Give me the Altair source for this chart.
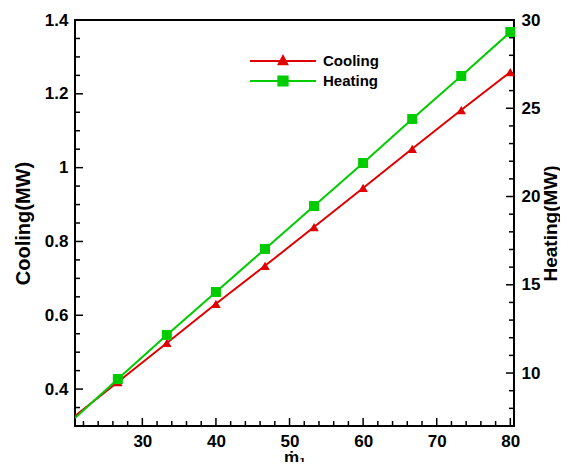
import altair as alt
import pandas as pd

# ---- data ----
x_vals = [20.85, 26.67, 33.33, 40.0, 46.67, 53.33, 60.0, 66.67, 73.33, 80.0]
cooling = [0.327, 0.419, 0.525, 0.631, 0.734, 0.839, 0.945, 1.051, 1.156, 1.259]
heating = [7.45, 9.66, 12.16, 14.59, 17.03, 19.46, 21.90, 24.39, 26.83, 29.32]
has_marker = [False, True, True, True, True, True, True, True, True, True]

series_names = ["Cooling", "Heating"]
series_colors = ["#e00000", "#00cc00"]
legend_paths = [
    "M-1,0H1M-0.13,0.1L0,-0.15L0.13,0.1Z",
    "M-1,0H1M-0.14,-0.14H0.14V0.14H-0.14Z",
]

x_major = [30, 40, 50, 60, 70, 80]
x_minor = [22, 24, 26, 28, 32, 34, 36, 38, 42, 44, 46, 48, 52, 54,
           56, 58, 62, 64, 66, 68, 72, 74, 76, 78]
cool_major = [0.4, 0.6, 0.8, 1, 1.2, 1.4]
cool_minor = [0.3, 0.35, 0.45, 0.5, 0.55, 0.65, 0.7, 0.75, 0.85,
              0.9, 0.95, 1.05, 1.1, 1.15, 1.25, 1.3, 1.35]
heat_major = [10, 15, 20, 25, 30]
heat_minor = [7, 8, 9, 11, 12, 13, 14, 16, 17, 18, 19, 21, 22, 23,
              24, 26, 27, 28, 29]

X_DOM = [20.85, 80.5]
COOL_DOM = [0.3, 1.4]
HEAT_DOM = [7, 30]

df = pd.DataFrame({"x": x_vals, "cooling": cooling, "heating": heating,
                   "marker": has_marker})
leg_df = pd.DataFrame({"series": series_names})

W, H = 439, 406
FONT = "Liberation Sans"
RED, GREEN = series_colors


def xs():
    return alt.Scale(domain=X_DOM, nice=False, zero=False)


def cs():
    return alt.Scale(domain=COOL_DOM, nice=False, zero=False)


def hs():
    return alt.Scale(domain=HEAT_DOM, nice=False, zero=False)


def lab_axis(**kw):
    opts = dict(ticks=False, tickSize=0, domain=False, grid=False,
                labelFont=FONT, labelFontSize=17, labelFontWeight="bold",
                labelColor="black", titleFont=FONT, titleFontSize=20,
                titleFontWeight="bold", titleColor="black", labelPadding=7)
    opts.update(kw)
    return alt.Axis(**opts)


cool_line = alt.Chart(df).mark_line(color=RED, strokeWidth=2, clip=True).encode(
    x=alt.X("x:Q", scale=xs(),
            axis=lab_axis(orient="bottom", values=x_major, title="ṁ₁",
                          titleFontSize=17, titlePadding=0)),
    y=alt.Y("cooling:Q", scale=cs(),
            axis=lab_axis(orient="left", values=cool_major, format="~g",
                          title="Cooling(MW)", titlePadding=11)),
)
cool_pts = alt.Chart(df).transform_filter("datum.marker").mark_point(
    shape="triangle-up", filled=True, size=90, color=RED, opacity=1
).encode(
    x=alt.X("x:Q", scale=xs(), axis=None),
    y=alt.Y("cooling:Q", scale=cs(), axis=None),
)
heat_line = alt.Chart(df).mark_line(color=GREEN, strokeWidth=2, clip=True).encode(
    x=alt.X("x:Q", scale=xs(), axis=None),
    y=alt.Y("heating:Q", scale=hs(),
            axis=lab_axis(orient="right", values=heat_major, title="Heating(MW)",
                          titleFontSize=19, titleAngle=270, titleBaseline="top",
                          titlePadding=2)),
)
heat_pts = alt.Chart(df).transform_filter("datum.marker").mark_point(
    shape="square", filled=True, size=100, color=GREEN, opacity=1
).encode(
    x=alt.X("x:Q", scale=xs(), axis=None),
    y=alt.Y("heating:Q", scale=hs(), axis=None),
)


# inward tick marks drawn as rules, placed through the scales at the frame edges
def ytick_layer(values, scale_fn, edge, length_units):
    d = pd.DataFrame({"v": values, "a": [edge] * len(values),
                      "b": [edge + length_units] * len(values)})
    return alt.Chart(d).mark_rule(color="black", strokeWidth=1.5).encode(
        y=alt.Y("v:Q", scale=scale_fn(), axis=None),
        x=alt.X("a:Q", scale=xs(), axis=None),
        x2="b:Q",
    )


def xtick_layer(values, length_units):
    d = pd.DataFrame({"v": values, "a": [COOL_DOM[0]] * len(values),
                      "b": [COOL_DOM[0] + length_units] * len(values)})
    return alt.Chart(d).mark_rule(color="black", strokeWidth=1.5).encode(
        x=alt.X("v:Q", scale=xs(), axis=None),
        y=alt.Y("a:Q", scale=cs(), axis=None),
        y2="b:Q",
    )


px_x = (X_DOM[1] - X_DOM[0]) / W        # data units per pixel along x
px_c = (COOL_DOM[1] - COOL_DOM[0]) / H   # data units per pixel along y (cooling)

tick_layers = [
    ytick_layer(cool_major, cs, X_DOM[0], 8 * px_x),
    ytick_layer(cool_minor, cs, X_DOM[0], 5 * px_x),
    ytick_layer(heat_major, hs, X_DOM[1], -8 * px_x),
    ytick_layer(heat_minor, hs, X_DOM[1], -5 * px_x),
    xtick_layer(x_major, 8 * px_c),
    xtick_layer(x_minor, 5 * px_c),
]

leg = alt.Legend(orient="none", legendX=174, legendY=32, title=None,
                 labelFont=FONT, labelFontSize=15, labelFontWeight="bold",
                 labelColor="black", clipHeight=18, labelOffset=6,
                 symbolStrokeWidth=2, symbolSize=4356)
legend_layer = alt.Chart(leg_df).transform_filter("false").mark_point(
    filled=True, size=4356, strokeWidth=2, opacity=1
).encode(
    fill=alt.Fill("series:N", scale=alt.Scale(domain=series_names,
                                              range=series_colors), legend=leg),
    stroke=alt.Stroke("series:N", scale=alt.Scale(domain=series_names,
                                                  range=series_colors), legend=leg),
    shape=alt.Shape("series:N", scale=alt.Scale(domain=series_names,
                                                range=legend_paths), legend=leg),
)

chart = alt.layer(
    *tick_layers, cool_line, cool_pts, heat_line, heat_pts, legend_layer
).resolve_scale(y="independent").resolve_axis(
    x="independent", y="independent"
).properties(
    width=W, height=H,
    autosize=alt.AutoSizeParams(type="none"),
    padding={"left": 67, "top": 12, "right": 46, "bottom": 36},
).configure_view(stroke="black", strokeWidth=2)

chart.save("out.html", embed_options={"renderer": "svg", "actions": False})
